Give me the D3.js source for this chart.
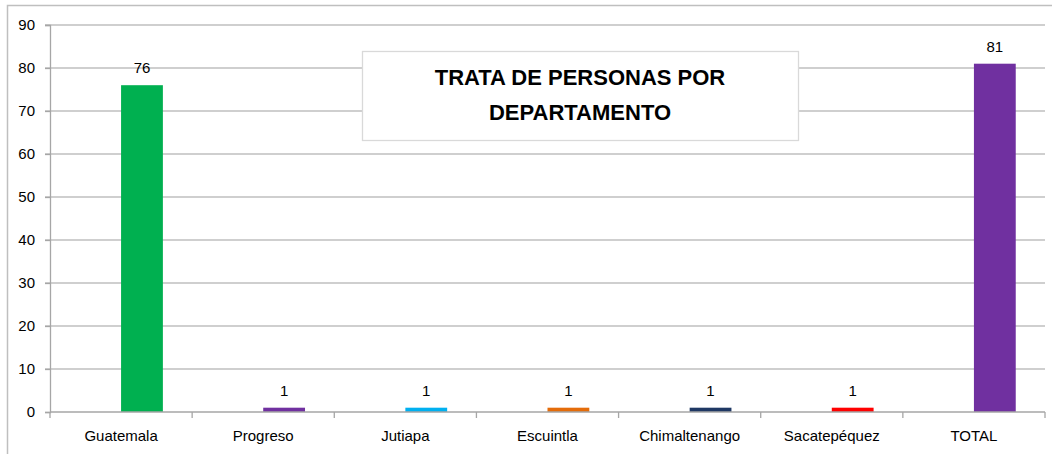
<!DOCTYPE html>
<html>
<head>
<meta charset="utf-8">
<script src="https://cdn.jsdelivr.net/npm/d3@7"></script>
<style>
  body { margin: 0; background: #fff; }
  svg { display: block; font-family: "Liberation Sans", Arial, sans-serif; }
</style>
</head>
<body>
<svg width="1052" height="454"></svg>
<script>
var departamentos = ['Guatemala', 'Progreso', 'Jutiapa', 'Escuintla', 'Chimaltenango', 'Sacatepéquez', 'TOTAL'];
var casos = [76, 1, 1, 1, 1, 1, 81];
var colores = ['#00b050', '#7030a0', '#00b0f0', '#e46c0a', '#1f3864', '#ff0000', '#7030a0'];
var yTicks = [0, 10, 20, 30, 40, 50, 60, 70, 80, 90];
var titulo = ['TRATA DE PERSONAS POR', 'DEPARTAMENTO'];

var svg = d3.select('svg');

// outer frame (only top and left edges are visible in the original)
svg.append('rect')
    .attr('x', 7.5).attr('y', 5.5)
    .attr('width', 1100).attr('height', 500)
    .attr('fill', 'none')
    .attr('stroke', '#bfbfbf')
    .attr('stroke-width', 1.5);

var plotLeft = 50, plotRight = 1045, plotTop = 25, plotBottom = 412;

var x = d3.scaleBand()
    .domain(departamentos)
    .range([plotLeft, plotRight])
    .padding(0);

// two series slots per category, the bar sits in the second one
var xs = d3.scaleBand()
    .domain(['a', 'b'])
    .range([0, x.bandwidth()])
    .paddingInner(0)
    .paddingOuter(0.7);

var y = d3.scaleLinear()
    .domain([0, 90])
    .range([plotBottom, plotTop]);

// gridlines
svg.append('g')
    .selectAll('line')
    .data(yTicks.slice(1))
    .enter()
    .append('line')
    .attr('x1', plotLeft - 5).attr('x2', plotRight)
    .attr('y1', function(d){ return y(d); })
    .attr('y2', function(d){ return y(d); })
    .attr('stroke', '#bfbfbf')
    .attr('stroke-width', 1.3);

// y axis
var yAxis = svg.append('g')
    .attr('transform', 'translate(' + plotLeft + ',0)')
    .call(d3.axisLeft(y).tickValues(yTicks).tickSize(5).tickPadding(10));
yAxis.select('.domain').attr('stroke', '#a6a6a6').attr('stroke-width', 1.3);
yAxis.selectAll('.tick line').attr('stroke', '#a6a6a6').attr('stroke-width', 1.3);
yAxis.selectAll('text').attr('font-size', 15).attr('fill', '#000');

// bars
svg.append('g')
    .selectAll('rect')
    .data(casos)
    .enter()
    .append('rect')
    .attr('x', function(d, i){ return x(departamentos[i]) + xs('b'); })
    .attr('width', xs.bandwidth())
    .attr('y', function(d){ return y(d); })
    .attr('height', function(d){ return y(0) - y(d); })
    .attr('fill', function(d, i){ return colores[i]; });

// x axis
var xAxisG = svg.append('g')
    .attr('transform', 'translate(0,' + plotBottom + ')');
xAxisG.append('line')
    .attr('x1', plotLeft).attr('x2', plotRight)
    .attr('stroke', '#a6a6a6').attr('stroke-width', 1.3);
xAxisG.selectAll('.tk')
    .data(departamentos.concat(['end']))
    .enter()
    .append('line')
    .attr('class', 'tk')
    .attr('x1', function(d, i){ return plotLeft + i * x.step(); })
    .attr('x2', function(d, i){ return plotLeft + i * x.step(); })
    .attr('y1', 0).attr('y2', 6)
    .attr('stroke', '#a6a6a6').attr('stroke-width', 1.3);
xAxisG.selectAll('text')
    .data(departamentos)
    .enter()
    .append('text')
    .attr('x', function(d){ return x(d) + x.bandwidth() / 2; })
    .attr('y', 29)
    .attr('text-anchor', 'middle')
    .attr('font-size', 15)
    .attr('fill', '#000')
    .text(function(d){ return d; });

// data labels
svg.append('g')
    .selectAll('text')
    .data(casos)
    .enter()
    .append('text')
    .attr('x', function(d, i){ return x(departamentos[i]) + xs('b') + xs.bandwidth() / 2; })
    .attr('y', function(d){ return y(d) - 12; })
    .attr('text-anchor', 'middle')
    .attr('font-size', 15)
    .attr('fill', '#000')
    .text(function(d){ return d; });

// title box
svg.append('rect')
    .attr('x', 362.5).attr('y', 51.5)
    .attr('width', 436).attr('height', 89)
    .attr('fill', '#fff')
    .attr('stroke', '#d9d9d9')
    .attr('stroke-width', 1.3);

svg.append('g')
    .selectAll('text')
    .data(titulo)
    .enter()
    .append('text')
    .attr('x', 580)
    .attr('y', function(d, i){ return 85 + i * 35; })
    .attr('text-anchor', 'middle')
    .attr('font-size', 22)
    .attr('font-weight', 'bold')
    .attr('fill', '#000')
    .text(function(d){ return d; });
</script>
</body>
</html>
